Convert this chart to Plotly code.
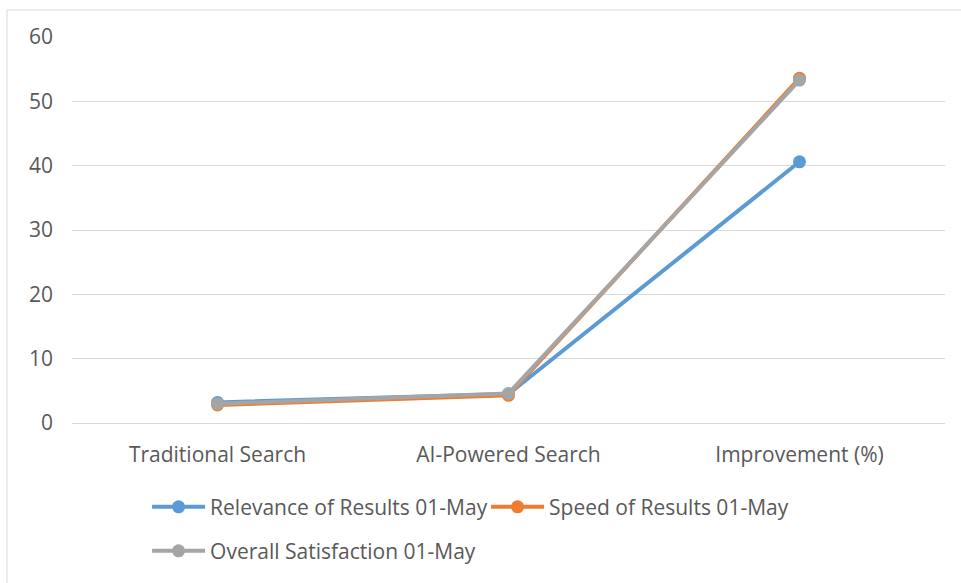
import plotly.graph_objects as go

categories = ["Traditional Search", "AI-Powered Search", "Improvement (%)"]
relevance = [3.2, 4.5, 40.6]
speed = [2.8, 4.3, 53.6]
satisfaction = [3.0, 4.6, 53.3]

series_names = [
    "Relevance of Results 01-May",
    "Speed of Results 01-May",
    "Overall Satisfaction 01-May",
]
series_values = [relevance, speed, satisfaction]
colors = ["#5B9BD5", "#ED7D31", "#A5A5A5"]
legends = ["legend", "legend", "legend2"]

FONT = "Open Sans"
TEXT_COLOR = "#595959"
SIZE = 21

fig = go.Figure()
for name, vals, col, lg in zip(series_names, series_values, colors, legends):
    fig.add_trace(go.Scatter(
        x=categories, y=vals, name=name, mode="lines+markers",
        line=dict(color=col, width=4),
        marker=dict(color=col, size=13),
        legend=lg,
    ))

legend_common = dict(
    orientation="h", xanchor="left", yanchor="middle",
    font=dict(family=FONT, size=SIZE, color=TEXT_COLOR),
    bgcolor="rgba(0,0,0,0)", itemwidth=53,
    entrywidth=271, entrywidthmode="pixels",
)

fig.update_layout(
    width=961, height=583,
    margin=dict(l=72, r=16, t=37, b=160),
    paper_bgcolor="white", plot_bgcolor="white",
    font=dict(family=FONT, size=SIZE, color=TEXT_COLOR),
    xaxis=dict(
        range=[-0.5, 2.5], showgrid=False, showline=True,
        linecolor="#D9D9D9", linewidth=1, ticks="", ticklabelstandoff=13,
        tickfont=dict(family=FONT, size=SIZE, color=TEXT_COLOR),
    ),
    yaxis=dict(
        range=[0, 60], dtick=10, showgrid=True, gridcolor="#D9D9D9",
        gridwidth=1, zeroline=False, ticks="", ticklabelstandoff=18,
        tickfont=dict(family=FONT, size=SIZE, color=TEXT_COLOR),
    ),
    legend=dict(x=0.086, y=-0.218, **legend_common),
    legend2=dict(x=0.086, y=-0.332, **legend_common),
    shapes=[dict(
        type="rect", xref="paper", yref="paper",
        x0=-0.0745, x1=1.2, y0=-1.0, y1=1.07,
        line=dict(color="#D9D9D9", width=1), fillcolor="rgba(0,0,0,0)",
        layer="below",
    )],
)

fig.write_html("out.html")
